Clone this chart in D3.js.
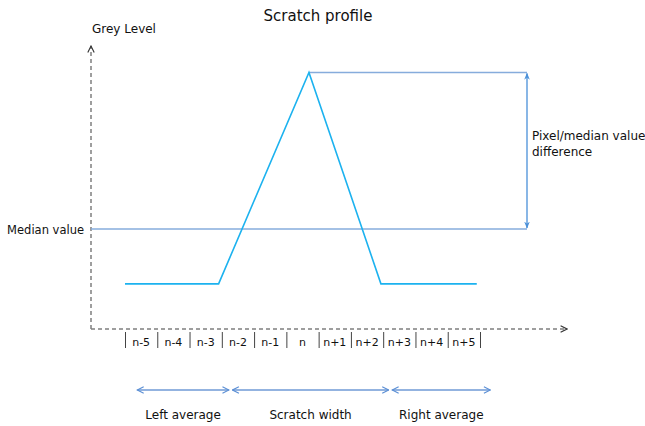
<!DOCTYPE html>
<html>
<head>
<meta charset="utf-8">
<script src="https://cdn.jsdelivr.net/npm/d3@7"></script>
<style>
  body { margin: 0; background: #fff; }
  text { font-family: "DejaVu Sans", sans-serif; fill: #111; }
</style>
</head>
<body>
<div id="chart"></div>
<script>
// pixel positions (cell index, n = 0)
const cells = ["n-5", "n-4", "n-3", "n-2", "n-1", "n", "n+1", "n+2", "n+3", "n+4", "n+5"];
// scratch profile, x in cell units, y in grey level
const profileX = [-5.5, -2.6, 0.2, 2.43, 5.4];
const profileY = [16, 16, 91, 16, 16];
const medianValue = 35.5;
const peakValue = 91;
// ranges marked under the axis
const ranges = [
  { label: "Left average", from: -5.15, to: -2.25 },
  { label: "Scratch width", from: -2.2, to: 2.7 },
  { label: "Right average", from: 2.75, to: 5.85 }
];

const W = 645, H = 426;
const svg = d3.select('#chart').append('svg')
    .attr('width', W)
    .attr('height', H);

const x = d3.scaleLinear().domain([-5.5, 5.5]).range([125, 480]);
const y = d3.scaleLinear().domain([0, 100]).range([329, 47]);

const axisCol = '#7f7f7f';
const lineCol = '#86acdc';
const arrowCol = '#4a90d9';
const profCol = '#1cb2ef';

// markers
const defs = svg.append('defs');
function openArrow(id, col) {
  defs.append('marker')
      .attr('id', id)
      .attr('viewBox', '0 0 10 10')
      .attr('refX', 9).attr('refY', 5)
      .attr('markerWidth', 8).attr('markerHeight', 8)
      .attr('markerUnits', 'userSpaceOnUse')
      .attr('orient', 'auto-start-reverse')
      .append('path')
      .attr('d', 'M1,1 L9,5 L1,9')
      .attr('fill', 'none')
      .attr('stroke', col)
      .attr('stroke-width', 1.4);
}
openArrow('axArrow', '#333');
openArrow('rangeArrow', '#5b8fd5');
defs.append('marker')
    .attr('id', 'solidArrow')
    .attr('viewBox', '0 0 10 10')
    .attr('refX', 9).attr('refY', 5)
    .attr('markerWidth', 7).attr('markerHeight', 7)
    .attr('markerUnits', 'userSpaceOnUse')
    .attr('orient', 'auto-start-reverse')
    .append('path')
    .attr('d', 'M0,1 L10,5 L0,9 L3,5 Z')
    .attr('fill', arrowCol);

// title
svg.append('text')
    .attr('x', 318).attr('y', 21)
    .attr('text-anchor', 'middle')
    .style('font-size', '15px')
    .text('Scratch profile');

// axes (dashed)
svg.append('line')
    .attr('x1', 91).attr('y1', y(0))
    .attr('x2', 91).attr('y2', 46)
    .attr('stroke', axisCol).attr('stroke-width', 1.5)
    .attr('stroke-dasharray', '4,3')
    .attr('marker-end', 'url(#axArrow)');
svg.append('line')
    .attr('x1', 91).attr('y1', y(0))
    .attr('x2', 567).attr('y2', y(0))
    .attr('stroke', axisCol).attr('stroke-width', 1.5)
    .attr('stroke-dasharray', '4,3')
    .attr('marker-end', 'url(#axArrow)');

svg.append('text')
    .attr('x', 92).attr('y', 33)
    .style('font-size', '12px')
    .text('Grey Level');

// pixel cells under the x axis
const cellAxis = d3.axisBottom(x)
    .tickValues(d3.range(-5.5, 6, 1))
    .tickSize(16)
    .tickFormat('');
const gCells = svg.append('g')
    .attr('transform', 'translate(0,332)')
    .call(cellAxis);
gCells.select('.domain').remove();
gCells.selectAll('.tick line').attr('stroke', '#444').attr('stroke-width', 1);

svg.append('g').selectAll('text')
    .data(cells)
    .enter().append('text')
    .attr('x', (d, i) => x(i - 5))
    .attr('y', 346)
    .attr('text-anchor', 'middle')
    .style('font-size', '11px')
    .text(d => d);

// median line and peak reference line
svg.append('line')
    .attr('x1', 91).attr('x2', 527)
    .attr('y1', y(medianValue)).attr('y2', y(medianValue))
    .attr('stroke', lineCol).attr('stroke-width', 1.5);
svg.append('line')
    .attr('x1', x(profileX[2])).attr('x2', 527)
    .attr('y1', y(peakValue)).attr('y2', y(peakValue))
    .attr('stroke', lineCol).attr('stroke-width', 1.5);

svg.append('text')
    .attr('x', 84).attr('y', y(medianValue) + 5)
    .attr('text-anchor', 'end')
    .style('font-size', '11.5px')
    .text('Median value');

// difference double arrow
svg.append('line')
    .attr('x1', 527).attr('x2', 527)
    .attr('y1', y(peakValue) + 1).attr('y2', y(medianValue) - 1)
    .attr('stroke', arrowCol).attr('stroke-width', 1.3)
    .attr('marker-start', 'url(#solidArrow)')
    .attr('marker-end', 'url(#solidArrow)');

svg.append('text')
    .attr('x', 532).attr('y', 140)
    .style('font-size', '12px')
    .selectAll('tspan')
    .data(['Pixel/median value', 'difference'])
    .enter().append('tspan')
    .attr('x', 532)
    .attr('dy', (d, i) => i ? 16 : 0)
    .text(d => d);

// profile
const line = d3.line()
    .x(d => x(d[0]))
    .y(d => y(d[1]));
svg.append('path')
    .datum(d3.zip(profileX, profileY))
    .attr('d', line)
    .attr('fill', 'none')
    .attr('stroke', profCol)
    .attr('stroke-width', 1.6);

// ranges
const gR = svg.append('g');
gR.selectAll('line')
    .data(ranges)
    .enter().append('line')
    .attr('x1', d => x(d.from) + 1).attr('x2', d => x(d.to) - 1)
    .attr('y1', 390).attr('y2', 390)
    .attr('stroke', '#6f9ad6').attr('stroke-width', 1.3)
    .attr('marker-start', 'url(#rangeArrow)')
    .attr('marker-end', 'url(#rangeArrow)');
gR.selectAll('text')
    .data(ranges)
    .enter().append('text')
    .attr('x', d => (x(d.from) + x(d.to)) / 2)
    .attr('y', 419)
    .attr('text-anchor', 'middle')
    .style('font-size', '12px')
    .text(d => d.label);
</script>
</body>
</html>
